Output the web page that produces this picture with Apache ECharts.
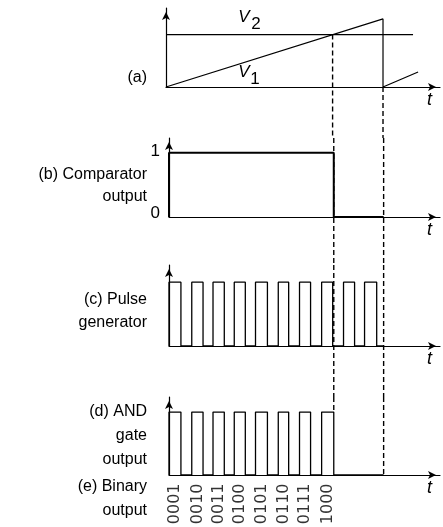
<!DOCTYPE html>
<html><head><meta charset="utf-8">
<script src="https://cdn.jsdelivr.net/npm/echarts@6/dist/echarts.min.js"></script>
<style>html,body{margin:0;padding:0;background:#fff}#c{width:443px;height:527px}</style>
</head><body><div id="c"></div>
<script>
// ---------- DATA (time in clock periods, levels in relative units) ----------
// (a) ramp V1 and reference V2
const rampTimes  = [0, 9.9, 9.9, 11.5];
const rampValues = [0, 1.0, 0, 0.22];
const v2Times  = [0, 11.27];
const v2Values = [0.77, 0.77];
// (b) comparator output
const compTimes  = [0, 0, 7.6, 7.6, 9.9];
const compValues = [0, 1, 1, 0, 0];
// (c) pulse generator edges
const pulseRise = [0, 1.05, 2.03, 3.01, 3.99, 5.04, 6.02, 7.04, 8.05, 9.02];
const pulseFall = [0.55, 1.57, 2.55, 3.52, 4.54, 5.52, 6.53, 7.55, 8.56, 9.58];
const pulseEnd = 9.9;
// (d) AND gate output edges
const andRise = [0, 1.05, 2.03, 3.01, 3.99, 5.04, 6.02, 7.04];
const andFall = [0.55, 1.57, 2.55, 3.52, 4.54, 5.52, 6.53, 7.6];
const andEnd = 9.9;
// (e) binary counter output
const binaryLabels = ['0001','0010','0011','0100','0101','0110','0111','1000'];
// event times (dashed markers)
const crossTime = 7.6;   // V1 reaches V2
const resetTime = 9.9;   // ramp reset
// panel label texts
const labelTexts = ['(a)', '(b) Comparator', 'output', '(c) Pulse', 'generator',
                    '(d) AND', 'gate', 'output', '(e) Binary', 'output'];
const axisName = 't';

// ---------- LAYOUT ----------
const FONT = '"Liberation Sans", Arial, sans-serif';
const XMAX = 12.5;
const panels = [
  {left: 166, top: 8,   height: 79, ymax: 1.16},
  {left: 169, top: 138, height: 79, ymax: 1.23},
  {left: 169, top: 265, height: 81, ymax: 1.27},
  {left: 169, top: 397, height: 78, ymax: 1.24}
];
const labelY = [78, 175, 197, 300, 323, 412, 436, 460, 487, 511];

function gapUnits(i) {
  const p = panels[i], n = panels[i + 1];
  return (n.top - (p.top + p.height)) * p.ymax / p.height;
}
function zip(a, b) { return a.map((v, i) => [v, b[i]]); }
function pulses(rise, fall, end) {
  const d = [];
  rise.forEach((r, i) => { d.push([r, 0], [r, 1], [fall[i], 1], [fall[i], 0]); });
  d.push([end, 0]);
  return d;
}

const grids = panels.map(p => ({left: p.left, top: p.top, height: p.height, right: 3}));
const xAxes = panels.map((p, i) => ({
  type: 'value', gridIndex: i, min: 0, max: XMAX,
  axisLine: {show: true, onZero: true, symbol: ['none', 'arrow'], symbolSize: [6, 8], symbolOffset: [0, -4],
             lineStyle: {color: '#000', width: 1.2}},
  axisTick: {show: false}, axisLabel: {show: false}, splitLine: {show: false},
  name: axisName, nameLocation: 'end', nameGap: -13,
  nameTextStyle: {fontStyle: 'italic', fontSize: 18, color: '#000', fontFamily: FONT,
                  verticalAlign: 'top', padding: [4, 0, 0, 0]}
}));
const yAxes = panels.map((p, i) => ({
  type: 'value', gridIndex: i, min: 0, max: p.ymax, interval: 1,
  axisLine: {show: true, symbol: ['none', 'arrow'], symbolSize: [6, 8], symbolOffset: [0, -4],
             lineStyle: {color: '#000', width: 1.2}},
  axisTick: {show: false}, splitLine: {show: false},
  axisLabel: i === 1 ? {
    show: true, margin: 9, color: '#000', fontSize: 17, fontFamily: FONT,
    formatter: v => v === 0 ? '{z|0}' : (v === 1 ? '{o|1}' : ''),
    rich: {z: {fontSize: 17, fontFamily: FONT, color: '#000', padding: [0, 0, 8, 0]},
           o: {fontSize: 17, fontFamily: FONT, color: '#000', padding: [0, 0, 2, 0]}}
  } : {show: false}
}));

function line(i, data, width, extra) {
  return Object.assign({
    type: 'line', xAxisIndex: i, yAxisIndex: i, data: data, showSymbol: false, symbol: 'none',
    silent: true, animation: false, lineStyle: {color: '#000', width: width}
  }, extra || {});
}
function dashed(i, data) {
  return line(i, data, 1.4, {clip: false, z: 1, lineStyle: {color: '#000', width: 1.4, type: [5, 3]}});
}

const series = [
  // (a)
  line(0, zip(v2Times, v2Values), 1.2),
  line(0, zip(rampTimes, rampValues), 1.2),
  dashed(0, [[crossTime, v2Values[0]], [crossTime, -gapUnits(0)]]),
  dashed(0, [[resetTime, 0], [resetTime, -gapUnits(0)]]),
  // (b)
  line(1, zip(compTimes, compValues), 2),
  dashed(1, [[crossTime, panels[1].ymax], [crossTime, -gapUnits(1)]]),
  dashed(1, [[resetTime, panels[1].ymax], [resetTime, -gapUnits(1)]]),
  // (c)
  line(2, pulses(pulseRise, pulseFall, pulseEnd), 1.3),
  dashed(2, [[crossTime, panels[2].ymax], [crossTime, -gapUnits(2)]]),
  dashed(2, [[resetTime, panels[2].ymax], [resetTime, -gapUnits(2)]]),
  // (d)
  line(3, pulses(andRise, andFall, andEnd), 1.3),
  dashed(3, [[crossTime, panels[3].ymax], [crossTime, 1]]),
  dashed(3, [[resetTime, panels[3].ymax], [resetTime, 0]]),
  // (e) binary labels under each AND pulse
  {
    type: 'scatter', xAxisIndex: 3, yAxisIndex: 3, symbolSize: 1, silent: true, animation: false,
    itemStyle: {color: 'transparent'},
    data: binaryLabels.map((s, k) => ({value: [(andRise[k] + andFall[k]) / 2, 0], name: s})),
    label: {show: true, position: 'bottom', distance: 8, rotate: 90, align: 'right', verticalAlign: 'middle',
            formatter: p => p.name, color: '#000', fontSize: 16, fontFamily: '"DejaVu Sans", sans-serif'}
  }
];

const graphic = labelTexts.map((t, k) => ({
  type: 'text', x: 147, y: labelY[k], silent: true,
  style: {text: t, font: '16px ' + FONT, fill: '#000', align: 'right', verticalAlign: 'middle'}
}));
// V2 / V1 symbols
const vStyle = (txt, italic) => ({text: txt, font: (italic ? 'italic ' : '') + '17px ' + FONT, fill: '#000',
                                   align: 'center', verticalAlign: 'middle'});
graphic.push(
  {type: 'text', x: 244, y: 17, silent: true, style: vStyle('V', true)},
  {type: 'text', x: 256, y: 24, silent: true, style: vStyle('2', false)},
  {type: 'text', x: 244, y: 72, silent: true, style: vStyle('V', true)},
  {type: 'text', x: 255, y: 79, silent: true, style: vStyle('1', false)}
);

const chart = echarts.init(document.getElementById('c'), null, {renderer: 'canvas'});
chart.setOption({
  animation: false,
  backgroundColor: '#fff',
  grid: grids, xAxis: xAxes, yAxis: yAxes, series: series, graphic: graphic
});
</script></body></html>
